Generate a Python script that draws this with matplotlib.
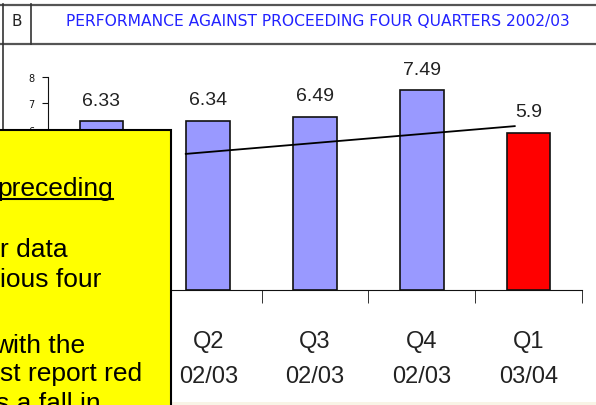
import matplotlib
matplotlib.use("Agg")
import matplotlib.pyplot as plt
from matplotlib.patches import Rectangle
from matplotlib.lines import Line2D

# data
quarters = ["Q1\n02/03", "Q2\n02/03", "Q3\n02/03", "Q4\n02/03", "Q1\n03/04"]
scores = [6.33, 6.34, 6.49, 7.49, 5.9]
bar_colors = ["#9999ff", "#9999ff", "#9999ff", "#9999ff", "#ff0000"]
score_labels = ["6.33", "6.34", "6.49", "7.49", "5.9"]
trend_x = [0.79, 3.87]
trend_y = [5.10, 6.14]
title = "PERFORMANCE AGAINST PROCEEDING FOUR QUARTERS 2002/03"
note_lines = ["preceding", "r data", "ious four", "with the", "st report red", "s a fall in"]

W, H = 596, 406


def fx(x):
    return x / W


def fy(y):
    return 1 - y / H


fig = plt.figure(figsize=(W / 100, H / 100), dpi=100)
fig.patch.set_facecolor("white")

ax = fig.add_axes([fx(48), fy(291), fx(582) - fx(48), fy(77.5) - fy(291)])
ax.bar(range(len(scores)), scores, width=0.41, color=bar_colors,
       edgecolor="#111111", linewidth=1.2, zorder=2)
for i, (v, lab) in enumerate(zip(scores, score_labels)):
    ax.annotate(lab, (i, v), xytext=(0, 9), textcoords="offset points",
                ha="center", va="bottom", fontsize=14, color="#222222",
                family="Liberation Sans")
ax.plot(trend_x, trend_y, color="black", lw=1.3, zorder=3)

ax.set_xlim(-0.5, len(scores) - 0.5)
ax.set_ylim(0, 8)
ax.spines["top"].set_visible(False)
ax.spines["right"].set_visible(False)
ax.spines["left"].set_color("#111111")
ax.spines["bottom"].set_color("#111111")
ax.set_yticks(range(0, 9))
ax.tick_params(axis="y", length=4, pad=6, labelsize=7, colors="#111111")
ax.set_xticks(range(len(scores)))
ax.set_xticklabels(quarters, fontsize=17, color="#222222",
                   family="Liberation Sans", linespacing=1.75)
ax.set_xticks([i + 0.5 for i in range(-1, len(scores))], minor=True)
ax.tick_params(axis="x", which="major", length=0, pad=29)
ax.tick_params(axis="x", which="minor", length=9, color="#111111")

# header frame
fig.add_artist(Line2D([0, 1], [fy(5.5), fy(5.5)], color="#555555", lw=1.6))
fig.add_artist(Line2D([0, 1], [fy(45), fy(45)], color="#555555", lw=1.6))
fig.add_artist(Line2D([fx(2.5), fx(2.5)], [fy(5), 0], color="#333333", lw=1.2))
fig.add_artist(Line2D([fx(31), fx(31)], [fy(5), fy(45)], color="#333333", lw=1.2))
fig.text(fx(17), fy(21), "B", ha="center", va="center", fontsize=11,
         color="#222222", family="DejaVu Sans")
fig.text(fx(66), fy(21), title, ha="left", va="center", fontsize=11.2,
         color="#2222ff", family="DejaVu Sans")

# beige strip at the bottom
fig.add_artist(Rectangle((fx(172), 0), 1, 3 / H, transform=fig.transFigure,
                         facecolor="#f8f4e6", edgecolor="none"))

# yellow note box covering the left part
fig.add_artist(Rectangle((fx(-5), fy(415)), fx(176), fy(131) - fy(415),
                         transform=fig.transFigure, facecolor="#ffff00",
                         edgecolor="black", lw=1.5, zorder=10))
baselines = [196, 257, 287, 353, 381, 411]
offsets = [-3, 0, 0, -6, 0, -4]
for text, base, off in zip(note_lines, baselines, offsets):
    fig.text(fx(off), fy(base), text, ha="left", va="baseline",
             fontsize=19, color="black", family="Liberation Sans", zorder=11)
fig.add_artist(Line2D([0, fx(113)], [fy(199.5), fy(199.5)], color="black",
                      lw=1.5, zorder=11))

fig.savefig("out.png", dpi=100)
